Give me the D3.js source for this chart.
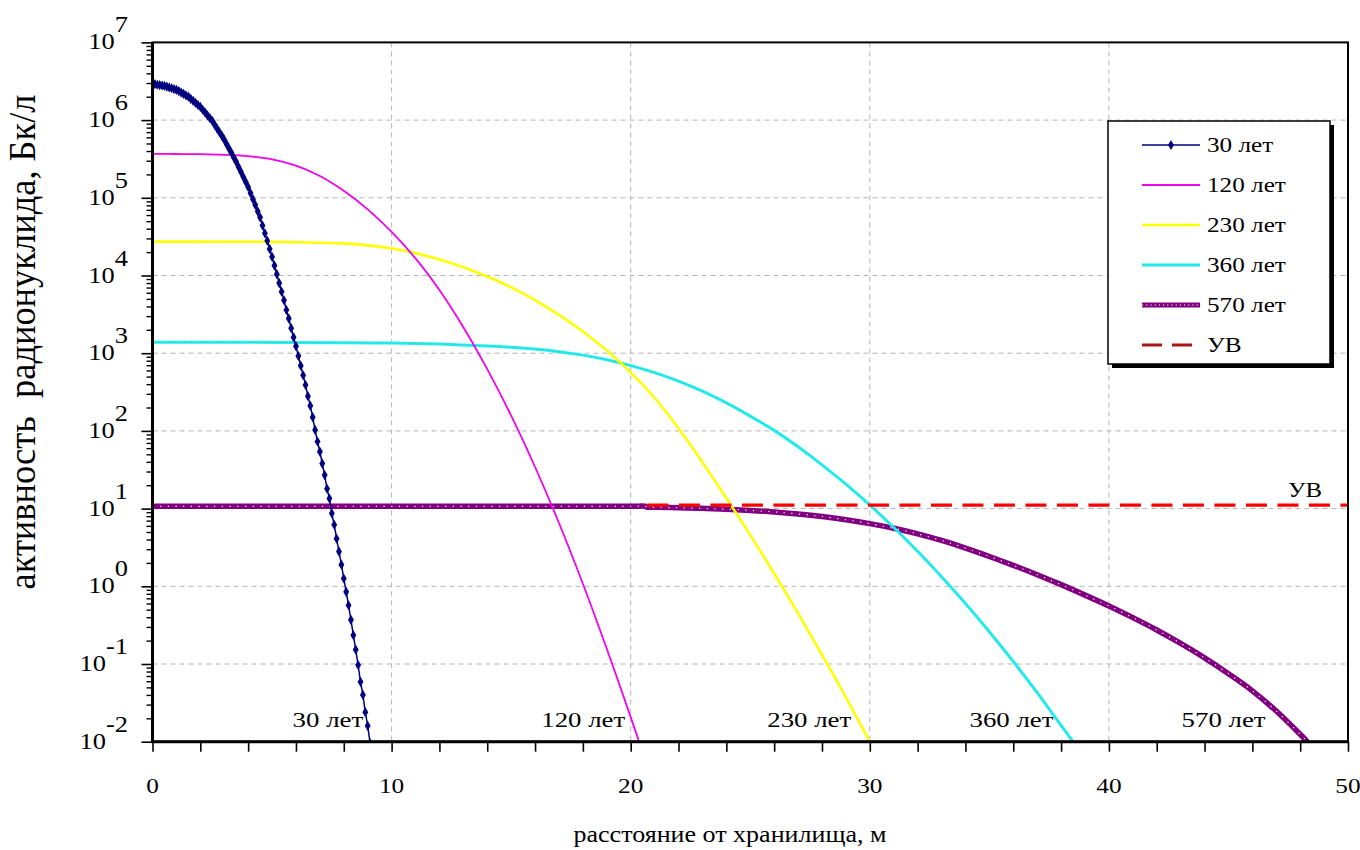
<!DOCTYPE html>
<html>
<head>
<meta charset="utf-8">
<script src="https://cdn.jsdelivr.net/npm/d3@7"></script>
<style>
body { margin: 0; background: #fff; }
text { font-family: "Liberation Serif", "Times New Roman", serif; fill: #000; white-space: pre; }
</style>
</head>
<body>
<div id="chart"></div>
<script>
// distances, m
var dist30 = [0,0.1,0.2,0.3,0.4,0.5,0.6,0.7,0.8,0.9,1,1.1,1.2,1.3,1.4,1.5,1.6,1.7,1.8,1.9,
  2,2.1,2.2,2.3,2.4,2.5,2.6,2.7,2.8,2.9,3,3.1,3.2,3.3,3.4,3.5,3.6,3.7,3.8,3.9,
  4,4.1,4.2,4.3,4.4,4.5,4.6,4.7,4.8,4.9,5,5.1,5.2,5.3,5.4,5.5,5.6,5.7,5.8,5.9,
  6,6.1,6.2,6.3,6.4,6.5,6.6,6.7,6.8,6.9,7,7.1,7.2,7.3,7.4,7.5,7.6,7.7,7.8,7.9,
  8,8.1,8.2,8.3,8.4,8.5,8.6,8.7,8.8,8.9,9,9.1];
var act30 = [2.9e6,2.9e6,2.85e6,2.82e6,2.79e6,2.75e6,2.69e6,2.63e6,2.57e6,2.51e6,
  2.45e6,2.36e6,2.26e6,2.17e6,2.08e6,2.0e6,1.88e6,1.77e6,1.67e6,1.57e6,
  1.48e6,1.36e6,1.25e6,1.15e6,1.06e6,9.8e5,8.7e5,7.8e5,7.0e5,6.3e5,
  5.6e5,4.9e5,4.3e5,3.8e5,3.3e5,2.9e5,2.5e5,2.15e5,1.85e5,1.6e5,
  1.38e5,1.15e5,9.6e4,8.1e4,6.7e4,5.6e4,4.4e4,3.5e4,2.8e4,2.2e4,
  1.74e4,1.34e4,1.04e4,8.0e3,6.2e3,4.8e3,3.6e3,2.8e3,2.1e3,1.6e3,
  1230,920,690,520,390,280,210,150,103,73,
  54,38,27,18,13.5,8.7,6.2,4.1,2.8,1.9,
  1.26,0.85,0.57,0.37,0.235,0.153,0.097,0.059,0.040,0.024,0.016,0.0095];

var dist120 = [0,1,2,3,4,5,6,7,8,9,10,11,12,13,14,15,16,17,18,19,20,20.35];
var act120 = [3.67e5,3.66e5,3.64e5,3.57e5,3.43e5,3.13e5,2.6e5,1.91e5,1.23e5,7.1e4,3.63e4,
  1.66e4,6.5e3,2.16e3,624,157,34.3,6.53,1.08,0.157,0.0207,0.01];

var dist230 = [0,2,4,6,8,9,10,11,12,13,14,15,16,17,18,19,20,21,22,23,24,25,26,27,28,29,30,30.1];
var act230 = [2.73e4,2.73e4,2.72e4,2.69e4,2.59e4,2.44e4,2.23e4,1.94e4,1.61e4,1.28e4,9.7e3,
  7.05e3,4.82e3,3.11e3,1.9e3,1.08e3,566,265,108,39.6,13.7,4.55,1.46,0.449,0.132,0.0373,0.01,0.0088];

var dist360 = [0,4,8,10,12,14,15,16,17,18,19,20,21,22,23,24,25,26,27,28,29,30,31,32,33,34,35,36,37,38,38.5];
var act360 = [1380,1380,1365,1350,1309,1242,1194,1130,1047,944,822,692,562,437,324,229,155,101.6,
  62.4,36.6,20.6,11.1,5.71,2.82,1.33,0.601,0.26,0.1076,0.0427,0.0162,0.01];

var dist570 = [0,5,10,15,20,20.6,20.7,21,22,23,24,25,26,27,28,29,30,31,32,33,34,35,36,37,38,
  39,40,41,42,43,44,45,46,47,48,48.3];
var act570 = [10.7,10.7,10.7,10.7,10.7,10.7,10.42,10.38,10.25,10.07,9.82,9.48,9.06,8.53,7.91,7.19,6.41,
  5.58,4.73,3.89,3.10,2.42,1.86,1.41,1.05,0.77,0.558,0.395,0.274,0.184,0.12,0.075,0.0452,0.0248,0.01245,0.01];

// reference level (УВ)
var uvDist = [20.7, 50];
var uvAct = [11.1, 11.1];

var seriesNames = ["30 лет", "120 лет", "230 лет", "360 лет", "570 лет", "УВ"];
var labelAt = [8.81, 19.77, 29.22, 37.68, 46.55];   // where the curve names end, m
var xTickLabels = [0, 10, 20, 30, 40, 50];
var yExponents = [-2, -1, 0, 1, 2, 3, 4, 5, 6, 7];

var svg = d3.select("#chart").append("svg")
    .attr("width", 1360)
    .attr("height", 850);

var x = d3.scaleLinear().domain([0, 50]).range([152.5, 1348]);
var y = d3.scaleLog().domain([1e-2, 1e7]).range([741.7, 42.4]);

svg.append("clipPath").attr("id", "plot")
    .append("rect")
    .attr("x", x(0)).attr("y", y(1e7))
    .attr("width", x(50) - x(0)).attr("height", y(1e-2) - y(1e7));

// grid
var grid = svg.append("g")
    .attr("stroke", "#b4b4b4")
    .attr("stroke-width", 1)
    .attr("stroke-dasharray", "5,4");

grid.selectAll(".gy")
    .data(yExponents.slice(1, -1))
    .enter().append("line")
    .attr("x1", x(0)).attr("x2", x(50))
    .attr("y1", function(d) { return y(Math.pow(10, d)); })
    .attr("y2", function(d) { return y(Math.pow(10, d)); });

grid.selectAll(".gx")
    .data(xTickLabels.slice(1, -1))
    .enter().append("line")
    .attr("y1", y(1e7)).attr("y2", y(1e-2))
    .attr("x1", function(d) { return x(d); })
    .attr("x2", function(d) { return x(d); });

function pts(xs, vs) {
    return xs.map(function(d, i) { return [d, vs[i]]; });
}

var line = d3.line()
    .x(function(d) { return x(d[0]); })
    .y(function(d) { return y(d[1]); })
    .curve(d3.curveCatmullRom.alpha(0.5));

var plot = svg.append("g").attr("clip-path", "url(#plot)");

// 570 лет
plot.append("path").datum(pts(dist570, act570))
    .attr("d", line).attr("fill", "none")
    .attr("stroke", "#800080").attr("stroke-width", 5.5);
plot.append("path").datum(pts(dist570, act570))
    .attr("d", line).attr("fill", "none")
    .attr("stroke", "#fff").attr("stroke-width", 1.2)
    .attr("stroke-dasharray", "1.2,6.5");

// 360 лет
plot.append("path").datum(pts(dist360, act360))
    .attr("d", line).attr("fill", "none")
    .attr("stroke", "#22f0f0").attr("stroke-width", 3);
plot.append("path").datum(pts(dist360, act360))
    .attr("d", line).attr("fill", "none")
    .attr("stroke", "#3fb8c4").attr("stroke-width", 1)
    .attr("stroke-dasharray", "1,2.2");

// 230 лет
plot.append("path").datum(pts(dist230, act230))
    .attr("d", line).attr("fill", "none")
    .attr("stroke", "#ffff00").attr("stroke-width", 2.6);

// 120 лет
plot.append("path").datum(pts(dist120, act120))
    .attr("d", line).attr("fill", "none")
    .attr("stroke", "#ff00ff").attr("stroke-width", 1.8);
plot.append("path").datum(pts(dist120, act120))
    .attr("d", line).attr("fill", "none")
    .attr("stroke", "#9a2a9a").attr("stroke-width", 1.4)
    .attr("stroke-opacity", 0.7)
    .attr("stroke-dasharray", "1,2.6");

// 30 лет
plot.append("path").datum(pts(dist30, act30))
    .attr("d", line).attr("fill", "none")
    .attr("stroke", "#000080").attr("stroke-width", 1.5);
plot.selectAll(".m30")
    .data(pts(dist30, act30))
    .enter().append("path")
    .attr("d", d3.symbol().type(d3.symbolDiamond).size(30))
    .attr("fill", "#000080")
    .attr("transform", function(d) { return "translate(" + x(d[0]) + "," + y(d[1]) + ")"; });

// УВ
plot.append("path").datum(pts(uvDist, uvAct))
    .attr("d", line).attr("fill", "none")
    .attr("stroke", "#ff0000").attr("stroke-width", 3.2)
    .attr("stroke-dasharray", "21,10.5");

// frame and axes
svg.append("rect")
    .attr("x", x(0)).attr("y", y(1e7))
    .attr("width", x(50) - x(0)).attr("height", y(1e-2) - y(1e7))
    .attr("fill", "none").attr("stroke", "#000").attr("stroke-width", 2);

var minorY = [];
yExponents.slice(0, -1).forEach(function(e) {
    for (var k = 2; k < 10; k++) minorY.push(k * Math.pow(10, e));
});

svg.append("g")
    .attr("transform", "translate(" + x(0) + ",0)")
    .call(d3.axisLeft(y).tickValues(minorY).tickSize(6).tickFormat(""))
    .call(function(g) { g.select(".domain").remove(); g.selectAll("line").attr("stroke-width", 1.4); });

svg.append("g")
    .attr("transform", "translate(" + x(0) + ",0)")
    .call(d3.axisLeft(y).tickValues(yExponents.map(function(e) { return Math.pow(10, e); }))
        .tickSize(11).tickFormat(""))
    .call(function(g) { g.select(".domain").remove(); g.selectAll("line").attr("stroke-width", 1.6); });

svg.append("g")
    .attr("transform", "translate(0," + y(1e-2) + ")")
    .call(d3.axisBottom(x).tickValues(d3.range(0, 51, 2)).tickSize(10).tickFormat(""))
    .call(function(g) { g.select(".domain").remove(); g.selectAll("line").attr("stroke-width", 1.6); });

svg.append("line")
    .attr("x1", x(0)).attr("x2", x(0)).attr("y1", y(1e7)).attr("y2", y(1e-2) + 1)
    .attr("stroke", "#000").attr("stroke-width", 3);
svg.append("line")
    .attr("x1", x(0) - 1).attr("x2", x(50)).attr("y1", y(1e-2)).attr("y2", y(1e-2))
    .attr("stroke", "#000").attr("stroke-width", 3);

// tick labels
svg.selectAll(".ylab")
    .data(yExponents)
    .enter().append("text")
    .attr("transform", function(d) { return "translate(128," + (y(Math.pow(10, d)) + 7) + ") scale(1.15,1)"; })
    .attr("text-anchor", "end")
    .style("font-size", "23px")
    .each(function(d) {
        var t = d3.select(this);
        t.append("tspan").text("10");
        t.append("tspan").attr("dy", -17).text(d < 0 ? "-" + (-d) : String(d));
    });

svg.selectAll(".xlab")
    .data(xTickLabels)
    .enter().append("text")
    .attr("transform", function(d) { return "translate(" + x(d) + ",793) scale(1.15,1)"; })
    .attr("text-anchor", "middle")
    .style("font-size", "22px")
    .text(function(d) { return d; });

// curve names
svg.selectAll(".clab")
    .data(labelAt)
    .enter().append("text")
    .attr("transform", function(d) { return "translate(" + x(d) + ",727) scale(1.22,1)"; })
    .attr("text-anchor", "end")
    .style("font-size", "22px")
    .text(function(d, i) { return seriesNames[i]; });

svg.append("text")
    .attr("transform", "translate(" + x(48.2) + "," + (y(uvAct[1]) - 8) + ") scale(1.18,1)")
    .attr("text-anchor", "middle")
    .style("font-size", "21px")
    .text("УВ");

// axis titles
svg.append("text")
    .attr("x", 730).attr("y", 842)
    .attr("text-anchor", "middle")
    .attr("textLength", 313).attr("lengthAdjust", "spacingAndGlyphs")
    .style("font-size", "23px")
    .text("расстояние от хранилища, м");

svg.append("text")
    .attr("transform", "translate(35,342) rotate(-90) scale(1,1.15)")
    .attr("text-anchor", "middle")
    .attr("textLength", 495).attr("lengthAdjust", "spacingAndGlyphs")
    .style("font-size", "33px")
    .text("активность  радионуклида, Бк/л");

// legend
var lg = svg.append("g").attr("transform", "translate(1108,121)");
lg.append("rect").attr("x", 4).attr("y", 4).attr("width", 222).attr("height", 243).attr("fill", "#000");
lg.append("rect").attr("width", 222).attr("height", 243)
    .attr("fill", "#fff").attr("stroke", "#000").attr("stroke-width", 1.5);

var rows = lg.selectAll(".row")
    .data(seriesNames)
    .enter().append("g")
    .attr("transform", function(d, i) { return "translate(0," + (24 + i * 40) + ")"; });

rows.append("text")
    .attr("transform", "translate(99,7) scale(1.2,1)")
    .style("font-size", "21px")
    .text(function(d) { return d; });

var samples = [
    [{c: "#000080", w: 1.5}],
    [{c: "#ff00ff", w: 1.8}, {c: "#9a2a9a", w: 1.4, da: "1,2.6", o: 0.7}],
    [{c: "#ffff00", w: 2.6}],
    [{c: "#22f0f0", w: 3}, {c: "#3fb8c4", w: 1, da: "1,2.2"}],
    [{c: "#800080", w: 5}, {c: "#fff", w: 1.2, da: "1.2,3"}],
    [{c: "#b01515", w: 3.2, da: "20,10"}]
];

rows.each(function(d, i) {
    var r = d3.select(this);
    samples[i].forEach(function(s) {
        r.append("line")
            .attr("x1", 34).attr("x2", i === 5 ? 84 : 92)
            .attr("stroke", s.c).attr("stroke-width", s.w)
            .attr("stroke-dasharray", s.da || null)
            .attr("stroke-opacity", s.o || 1);
    });
    if (i === 0) {
        r.append("path")
            .attr("d", d3.symbol().type(d3.symbolDiamond).size(30))
            .attr("transform", "translate(63,0)")
            .attr("fill", "#000080");
    }
});
</script>
</body>
</html>
